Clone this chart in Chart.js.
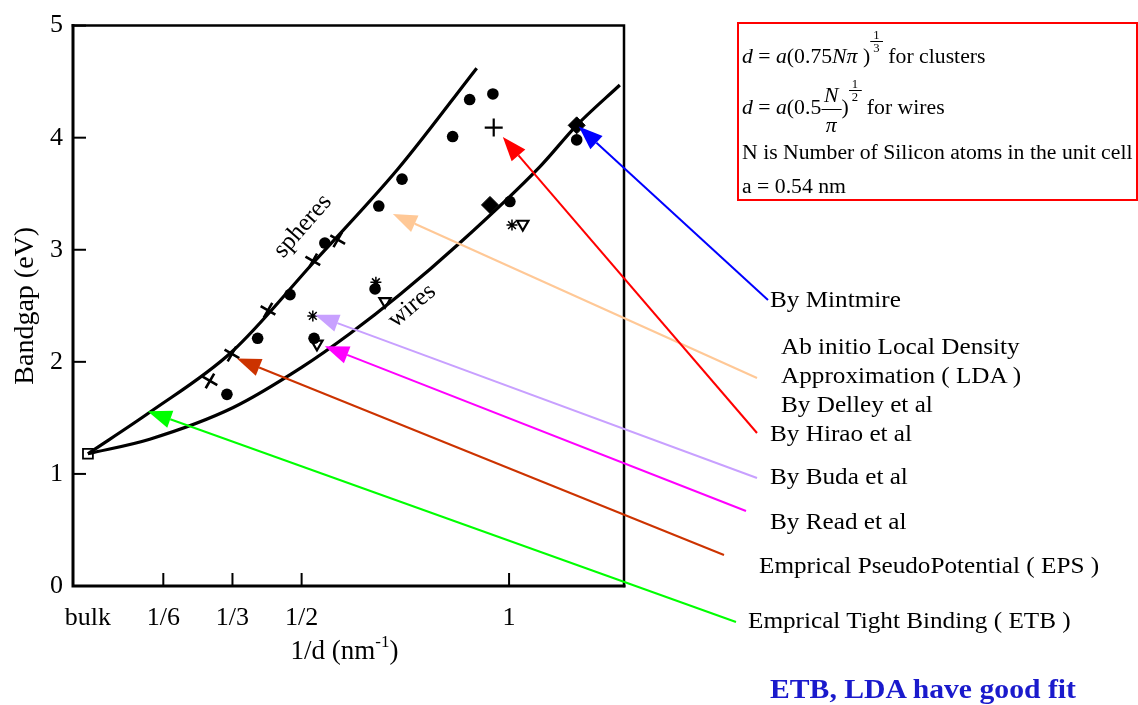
<!DOCTYPE html>
<html>
<head>
<meta charset="utf-8">
<script src="https://cdn.jsdelivr.net/npm/chart.js@4/dist/chart.umd.min.js"></script>
<style>
  body { margin: 0; background: #fff; }
  #wrap { position: relative; width: 1138px; height: 705px; font-family: 'Liberation Serif', 'Times New Roman', serif; color: #000; }
  #c { position: absolute; left: 0; top: 0; }
  .lbl { position: absolute; font-size: 24px; line-height: 24px; white-space: nowrap; transform-origin: 0 0; transform: scaleX(1.05); }
  .note { position: absolute; left: 770px; top: 675px; font-size: 28px; line-height: 28px; font-weight: bold; color: #1a1acc; white-space: nowrap; transform-origin: 0 0; transform: scaleX(1.06); }
  #box { position: absolute; left: 737px; top: 22px; width: 397px; height: 175px; border: 2px solid #f00; }
  #box .ln { position: absolute; left: 3px; font-size: 20.5px; line-height: 20px; white-space: nowrap; transform-origin: 0 0; transform: scaleX(1.06); }
  .anchor { position: relative; display: inline-block; height: 0; }
  .stack { position: absolute; left: 0; width: 100%; text-align: center; }
  .stack span { display: block; }
  .sup { font-size: 12px; line-height: 12px; }
  .sup .n { border-bottom: 1px solid #000; }
  .frac .n { line-height: 20px; padding-bottom: 4px; border-bottom: 1px solid #000; }
  .frac .d { line-height: 30px; }
</style>
</head>
<body>
<div id="wrap">
  <canvas id="c" width="1138" height="705"></canvas>

  <div id="box">
    <div class="ln" style="top:22px"><i>d</i> = <i>a</i>(0.75<i>Nπ</i> )<span class="anchor" style="width:12px"><span class="stack sup" style="top:-34px"><span class="n">1</span><span>3</span></span></span> for clusters</div>
    <div class="ln" style="top:73px"><i>d</i> = <i>a</i>(0.5<span class="anchor" style="width:19px"><span class="stack frac" style="top:-29px"><span class="n"><i>N</i></span><span class="d"><i>π</i></span></span></span>)<span class="anchor" style="width:12px"><span class="stack sup" style="top:-36px"><span class="n">1</span><span>2</span></span></span> for wires</div>
    <div class="ln" style="top:118px">N is Number of Silicon atoms in the unit cell</div>
    <div class="ln" style="top:152px">a = 0.54 nm</div>
  </div>

  <div class="lbl" style="left:770px;top:287px">By Mintmire</div>
  <div class="lbl" style="left:781px;top:334px">Ab initio Local Density</div>
  <div class="lbl" style="left:781px;top:363px">Approximation ( LDA )</div>
  <div class="lbl" style="left:781px;top:392px">By Delley et al</div>
  <div class="lbl" style="left:770px;top:421px">By Hirao et al</div>
  <div class="lbl" style="left:770px;top:464px">By Buda et al</div>
  <div class="lbl" style="left:770px;top:509px">By Read et al</div>
  <div class="lbl" style="left:759px;top:553px">Emprical PseudoPotential ( EPS )</div>
  <div class="lbl" style="left:748px;top:608px">Emprical Tight Binding ( ETB )</div>
  <div class="note">ETB, LDA have good fit</div>
</div>

<script>
// bulk silicon sits just left of 1/d = 0 in the original drawing
const BULK_X = -0.015;
const BULK_GAP = 1.18;

const X_TICK_VALUES = [BULK_X, 1 / 6, 1 / 3, 1 / 2, 1];
const X_TICK_LABELS = ['bulk', '1/6', '1/3', '1/2', '1'];

// tight-binding curves
const SPHERES_X = [BULK_X, 0.134, 0.332, 0.527, 0.732, 0.922];
const SPHERES_Y = [BULK_GAP, 1.55, 2.09, 2.88, 3.72, 4.62];
const WIRES_X = [BULK_X, 0.134, 0.334, 0.5, 0.616, 0.737, 0.881, 1.074, 1.163, 1.267];
const WIRES_Y = [BULK_GAP, 1.31, 1.59, 1.95, 2.25, 2.6, 3.06, 3.74, 4.11, 4.47];

// LDA (Delley et al) - filled circles
const LDA_X = [0.320, 0.394, 0.472, 0.556, 0.686, 0.742, 0.864, 0.905, 0.961, 0.530, 0.677, 1.002, 1.163];
const LDA_Y = [1.71, 2.21, 2.60, 3.06, 3.39, 3.63, 4.01, 4.34, 4.39, 2.21, 2.65, 3.43, 3.98];
// empirical pseudopotential - crosses
const EPS_X = [0.279, 0.332, 0.419, 0.527, 0.587];
const EPS_Y = [1.83, 2.07, 2.46, 2.90, 3.09];
// Hirao et al - plus
const HIRAO_X = [0.963];
const HIRAO_Y = [4.09];
// Mintmire - diamonds
const MINTMIRE_X = [0.954, 1.163];
const MINTMIRE_Y = [3.40, 4.11];
// Buda et al - stars
const BUDA_X = [0.527, 0.679, 1.007];
const BUDA_Y = [2.41, 2.71, 3.22];
// Read et al - open triangles
const READ_X = [0.537, 0.701, 1.033];
const READ_Y = [2.16, 2.54, 3.23];

// arrow heads point at these data positions, tails start at the text on the right
const ARROW_TIP_X = [1.168, 0.720, 0.985, 0.532, 0.556, 0.344, 0.129];
const ARROW_TIP_Y = [4.10, 3.32, 4.005, 2.42, 2.14, 2.03, 1.56];
const ARROW_COLORS = ['#0000ff', '#ffc896', '#ff0000', '#c8a0ff', '#ff00ff', '#cc3300', '#00ff00'];
const ARROW_TAILS = [[768, 300], [757, 378], [757, 433], [757, 478], [746, 511], [724, 555], [736, 622]];

const CURVE_LABELS = [
  { text: 'spheres', x: 0.503, y: 3.21, angle: -49 },
  { text: 'wires', x: 0.766, y: 2.50, angle: -40 },
];

const FONT = "'Liberation Serif', 'Times New Roman', serif";

const pts = (xs, ys) => xs.map((x, i) => ({ x, y: ys[i] }));

function marker(label, xs, ys, style, opts = {}) {
  return Object.assign({
    label,
    data: pts(xs, ys),
    pointStyle: style,
    pointRadius: 6,
    pointBackgroundColor: '#000',
    pointBorderColor: '#000',
    pointBorderWidth: 2,
    showLine: false,
  }, opts);
}

function curve(label, xs, ys) {
  return {
    label,
    data: pts(xs, ys),
    showLine: true,
    borderColor: '#000',
    borderWidth: 3.2,
    pointRadius: 0,
    cubicInterpolationMode: 'monotone',
    fill: false,
  };
}

function drawArrow(ctx, x0, y0, x1, y1, color) {
  const ang = Math.atan2(y1 - y0, x1 - x0);
  const L = 24, W = 9;
  const bx = x1 - L * Math.cos(ang), by = y1 - L * Math.sin(ang);
  ctx.strokeStyle = color;
  ctx.lineWidth = 2;
  ctx.beginPath();
  ctx.moveTo(x0, y0);
  ctx.lineTo(bx, by);
  ctx.stroke();
  ctx.fillStyle = color;
  ctx.beginPath();
  ctx.moveTo(x1, y1);
  ctx.lineTo(bx + W * Math.sin(ang), by - W * Math.cos(ang));
  ctx.lineTo(bx - W * Math.sin(ang), by + W * Math.cos(ang));
  ctx.closePath();
  ctx.fill();
}

const overlay = {
  id: 'overlay',
  afterDraw(chart) {
    const { ctx, chartArea: a, scales: { x, y } } = chart;
    ctx.save();
    ctx.strokeStyle = '#000';
    ctx.lineCap = 'square';

    // frame
    ctx.lineWidth = 2.5;
    ctx.beginPath();
    ctx.moveTo(a.left, a.top); ctx.lineTo(a.right, a.top); ctx.lineTo(a.right, a.bottom);
    ctx.stroke();
    ctx.lineWidth = 3;
    ctx.beginPath();
    ctx.moveTo(a.left, a.top); ctx.lineTo(a.left, a.bottom); ctx.lineTo(a.right, a.bottom);
    ctx.stroke();

    // inward tick marks
    ctx.lineWidth = 2;
    ctx.lineCap = 'butt';
    x.ticks.forEach((t, i) => {
      if (i === 0) return; // no mark under "bulk"
      const px = x.getPixelForValue(t.value);
      ctx.beginPath(); ctx.moveTo(px, a.bottom); ctx.lineTo(px, a.bottom - 13); ctx.stroke();
    });
    y.ticks.forEach(t => {
      const py = y.getPixelForValue(t.value);
      ctx.beginPath(); ctx.moveTo(a.left, py); ctx.lineTo(a.left + 13, py); ctx.stroke();
    });

    // x axis title with superscript
    ctx.fillStyle = '#000';
    ctx.textBaseline = 'alphabetic';
    const main = '1/d (nm', sup = '-1', end = ')';
    ctx.font = `27px ${FONT}`;
    const w1 = ctx.measureText(main).width, w3 = ctx.measureText(end).width;
    ctx.font = `17px ${FONT}`;
    const w2 = ctx.measureText(sup).width;
    let tx = (a.left + a.right) / 2 - (w1 + w2 + w3) / 2 - 4;
    const ty = 659;
    ctx.font = `27px ${FONT}`;
    ctx.fillText(main, tx, ty); tx += w1;
    ctx.font = `17px ${FONT}`;
    ctx.fillText(sup, tx, ty - 12); tx += w2;
    ctx.font = `27px ${FONT}`;
    ctx.fillText(end, tx, ty);

    // curve names
    ctx.font = `25px ${FONT}`;
    ctx.textAlign = 'center';
    ctx.textBaseline = 'middle';
    CURVE_LABELS.forEach(l => {
      ctx.save();
      ctx.translate(x.getPixelForValue(l.x), y.getPixelForValue(l.y));
      ctx.rotate(l.angle * Math.PI / 180);
      ctx.fillText(l.text, 0, 0);
      ctx.restore();
    });

    // arrows from the annotations
    ARROW_TIP_X.forEach((vx, i) => {
      const [tx0, ty0] = ARROW_TAILS[i];
      drawArrow(ctx, tx0, ty0, x.getPixelForValue(vx), y.getPixelForValue(ARROW_TIP_Y[i]), ARROW_COLORS[i]);
    });
    ctx.restore();
  },
};

new Chart(document.getElementById('c'), {
  type: 'scatter',
  data: {
    datasets: [
      curve('spheres (ETB)', SPHERES_X, SPHERES_Y),
      curve('wires (ETB)', WIRES_X, WIRES_Y),
      marker('bulk', [BULK_X], [BULK_GAP], 'rect', { pointRadius: 7, pointBackgroundColor: '#fff', pointBorderWidth: 1.8 }),
      marker('LDA', LDA_X, LDA_Y, 'circle', { pointRadius: 5.8, pointBorderWidth: 0 }),
      marker('EPS', EPS_X, EPS_Y, 'cross', { pointRadius: 8.5, pointBorderWidth: 2.6, pointRotation: 30 }),
      marker('Hirao', HIRAO_X, HIRAO_Y, 'cross', { pointRadius: 9, pointBorderWidth: 2.2 }),
      marker('Mintmire', MINTMIRE_X, MINTMIRE_Y, 'rectRot', { pointRadius: 8.5, pointBorderWidth: 1 }),
      marker('Buda', BUDA_X, BUDA_Y, 'star', { pointRadius: 5.5, pointBorderWidth: 1.5 }),
      marker('Read', READ_X, READ_Y, 'triangle', { pointRadius: 6.5, pointBackgroundColor: '#fff', pointBorderWidth: 2.2, pointRotation: 180 }),
    ],
  },
  options: {
    responsive: false,
    animation: false,
    layout: { padding: { top: 23, right: 514, left: 0, bottom: 0 } },
    plugins: { legend: { display: false }, tooltip: { enabled: false } },
    scales: {
      x: {
        type: 'linear',
        min: -0.051,
        max: 1.277,
        afterFit(s) { s.height = 119; },
        afterBuildTicks(s) { s.ticks = X_TICK_VALUES.map(v => ({ value: v })); },
        grid: { display: false, drawTicks: false },
        border: { display: false },
        ticks: {
          autoSkip: false,
          maxRotation: 0,
          padding: 17,
          color: '#000',
          font: { family: FONT, size: 26 },
          callback: (v, i) => X_TICK_LABELS[i],
        },
      },
      y: {
        min: 0,
        max: 5,
        afterFit(s) { s.width = 73; },
        grid: { display: false, drawTicks: false },
        border: { display: false },
        ticks: { stepSize: 1, padding: 10, color: '#000', font: { family: FONT, size: 26 } },
        title: { display: true, text: 'Bandgap (eV)', color: '#000', padding: 9, font: { family: FONT, size: 28 } },
      },
    },
  },
  plugins: [overlay],
});
</script>
</body>
</html>
